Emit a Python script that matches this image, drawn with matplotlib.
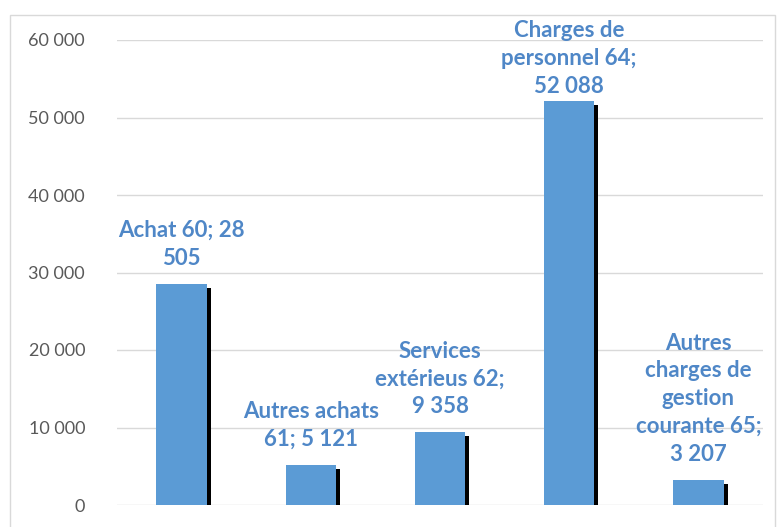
import textwrap
import matplotlib.pyplot as plt
import matplotlib.transforms as mtransforms
from matplotlib.patches import Rectangle
from matplotlib.ticker import FuncFormatter

OUTPUT_GRAPH = "out.png"

categories = ["Achat 60", "Autres achats 61", "Services extérieus 62",
              "Charges de personnel 64", "Autres charges de gestion courante 65"]
values = [28505, 5121, 9358, 52088, 3207]
y_ticks = [0, 10000, 20000, 30000, 40000, 50000, 60000]

BAR_COLOR = "#5B9BD5"
LABEL_COLOR = "#4F87C7"
GRID_COLOR = "#D9D9D9"
TICK_COLOR = "#595959"


def fmt(v):
    return f"{v:,}".replace(",", " ")


def create_graph():
    fig = plt.figure(figsize=(7.78, 5.27), dpi=100)
    # light border around the chart area, like the spreadsheet frame
    fig.patches.append(Rectangle((10 / 778, -0.01), 765 / 778, 1 - 15 / 527 + 0.01,
                                 transform=fig.transFigure, fill=False,
                                 edgecolor="#D9D9D9", linewidth=1.0))
    ax = fig.add_axes([117 / 778, 22 / 527, 646 / 778, 465 / 527])

    x = list(range(len(values)))
    shadow = mtransforms.offset_copy(ax.transData, fig=fig, x=4, y=-4, units="dots")
    ax.bar(x, values, width=0.39, color="black", transform=shadow, zorder=2)
    ax.bar(x, values, width=0.39, color=BAR_COLOR, zorder=3)

    ax.set_xlim(-0.5, len(values) - 0.5)
    ax.set_ylim(0, 60000)

    labels = []
    for xi, v, c in zip(x, values, categories):
        label = "\n".join(textwrap.wrap(f"{c}; {fmt(v)}", 13))
        t = ax.annotate(label, (xi, v), xytext=(0, 11), textcoords="offset points",
                        ha="center", va="bottom", color=LABEL_COLOR,
                        fontsize=16, fontweight="bold", family="Lato",
                        linespacing=1.4, annotation_clip=False, zorder=4)
        labels.append(t)

    # push labels down if they run past the top of the chart frame
    fig.canvas.draw()
    r = fig.canvas.get_renderer()
    limit = fig.bbox.height - 20
    for t in labels:
        top = t.get_window_extent(r).y1
        if top > limit:
            dy = (top - limit) * 72 / fig.dpi
            t.set_position((0, 11 - dy))

    ax.set_yticks(y_ticks)
    ax.yaxis.set_major_formatter(FuncFormatter(lambda v, p: fmt(int(v))))
    ax.set_xticks([])
    ax.grid(axis="y", color=GRID_COLOR, linewidth=1.0, zorder=0)
    ax.set_axisbelow(True)
    for s in ax.spines.values():
        s.set_visible(False)
    ax.tick_params(axis="y", length=0, pad=23, labelcolor=TICK_COLOR, labelsize=13)
    for t in ax.get_yticklabels():
        t.set_family("Lato")

    fig.savefig(OUTPUT_GRAPH, dpi=100)


if __name__ == "__main__":
    create_graph()
